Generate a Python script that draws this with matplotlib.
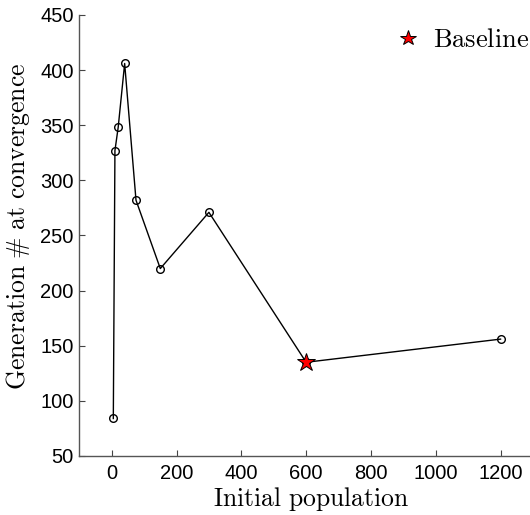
import matplotlib
matplotlib.use("Agg")
import matplotlib.pyplot as plt

plt.rcParams['mathtext.fontset'] = 'cm'
plt.rcParams['font.family'] = ['Liberation Sans', 'DejaVu Sans']

population = [5, 10, 20, 40, 75, 150, 300, 600, 1200]
generations = [84, 327, 348, 406, 282, 220, 271, 135, 156]
baseline_x = [600]
baseline_y = [135]
x_ticks = [0, 200, 400, 600, 800, 1000, 1200]
y_ticks = [50, 100, 150, 200, 250, 300, 350, 400, 450]

fig = plt.figure(figsize=(5.3, 5.15), dpi=100)
ax = fig.add_axes([0.1496, 0.1146, 0.856, 0.8563])

ax.plot(population, generations, color='black', lw=1.0, marker='o', ms=5.5,
        mfc='none', mec='black', mew=1.0, zorder=2)
ax.plot(baseline_x, baseline_y, linestyle='none', marker='*', ms=13.5,
        mfc='red', mec='black', mew=0.7, zorder=3, label=r'$\mathrm{Baseline}$')

ax.set_xlim(-100, 1300)
ax.set_ylim(50, 450)
ax.set_xticks(x_ticks)
ax.set_yticks(y_ticks)
ax.tick_params(direction='in', labelsize=14.5, length=4, width=0.8, color='#444444')
ax.tick_params(axis='x', pad=5.5)
ax.tick_params(axis='y', pad=4)
for s in ['top', 'right']:
    ax.spines[s].set_visible(False)
for s in ['left', 'bottom']:
    ax.spines[s].set_color('#555555')
    ax.spines[s].set_linewidth(1.0)

ax.set_xlabel(r'$\mathrm{Initial\ population}$', fontsize=18.5)
ax.set_ylabel(r'$\mathrm{Generation\ \#\ at\ convergence}$', fontsize=18.5)
ax.xaxis.set_label_coords(0.512, -0.066)
ax.yaxis.set_label_coords(-0.104, 0.52)

leg = fig.legend(loc='upper right', bbox_to_anchor=(0.998, 0.945), frameon=False,
                 fontsize=19, handletextpad=0.45, borderaxespad=0, borderpad=0,
                 handlelength=1.0, numpoints=1, markerscale=0.85)

fig.savefig('out.png', dpi=100)
